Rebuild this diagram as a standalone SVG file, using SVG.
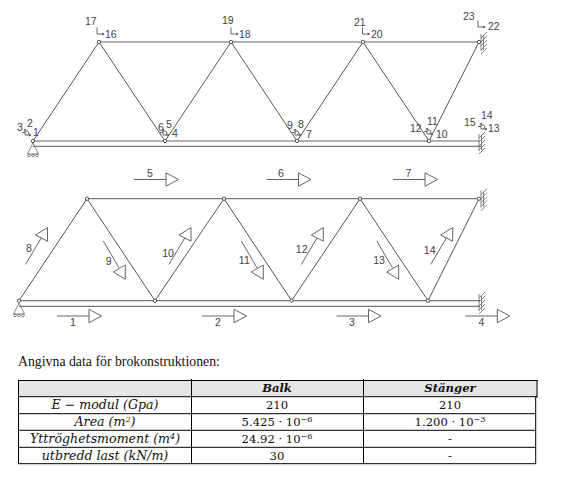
<svg xmlns="http://www.w3.org/2000/svg" width="574" height="496" viewBox="0 0 574 496">
<style>
.m{fill:none;stroke:#555;stroke-width:1}
.c{fill:none;stroke:#999;stroke-width:1.3}
.a{fill:none;stroke:#555;stroke-width:.9}
.j{fill:#fff;stroke:#444;stroke-width:.9}
.t{font-family:"Liberation Sans",Arial,sans-serif;font-size:10.5px;fill:#444}
.e{text-anchor:middle}
.h{fill:none;stroke:#666;stroke-width:.8}
.r{fill:none;stroke:#000;stroke-width:1}
.v{font-family:"DejaVu Serif",serif;font-size:11.6px;fill:#111;text-anchor:middle}
.i{font-style:italic;font-size:12.6px}
.b{font-weight:bold;font-style:italic}
.s{font-size:8px}
</style>
<defs>
<g id="fix"><path class="h" d="M0-8V9M2.500-7V8M0-4L6-10M0 0L6-6M0 4L6-2M0 8L6 2M0 12L6 6"/></g>
<g id="pin"><path class="h" d="M0 2L-5.500 13H5.500Z"/><circle class="h" cx="-4" cy="14.500" r="1.300"/><circle class="h" cx="0" cy="14.500" r="1.300"/><circle class="h" cx="4" cy="14.500" r="1.300"/></g>
<path id="ax" class="a" d="M0-6.500V0H7M7 0L5-1M7 0L5 1"/>
<path id="bx" class="a" d="M0-6V0H6M-3-2.500H0M6 0L4-1M6 0L4 1M0-6L-1-4.500M0-6L1-4.500M0-4H2.500L4-2L2.500 0"/>
<path id="ar" class="a" d="M0 0H32M32-6.700V6.700L44.500 0Z"/>
<path id="up" class="a" d="M0 0L15.700-26.500M22-37V-23.300L10-29.500Z"/>
<path id="dn" class="a" d="M0 0L15.700 26.700M22 24V38.300L10 31Z"/>
</defs>

<g id="connectors">
<path class="c" d="M99 42H479"/>
<path class="m" d="M33 141L99 42L165 141L231 42L297 141L363 42L429 141L479 42"/>
<path class="c" d="M33 141H479"/>
<path class="m" d="M33 146.300H481"/>
<path class="m" d="M87 198.700H479M19 300.700L87 198.700L155 300.700L224 198.700L291.600 300.700L360 198.700L428 300.700L479 198.700"/>
<path class="m" d="M19 300.700H480M19 306.300H480"/>
</g>

<g id="upper-joints">
<g id="u1"><circle class="j" cx="33" cy="141" r="1.700"/><use href="#pin" x="33" y="141"/></g>
<g id="u2"><circle class="j" cx="99" cy="42" r="1.700"/></g>
<g id="u3"><circle class="j" cx="165" cy="141" r="1.700"/></g>
<g id="u4"><circle class="j" cx="231" cy="42" r="1.700"/></g>
<g id="u5"><circle class="j" cx="297" cy="141" r="1.700"/></g>
<g id="u6"><circle class="j" cx="363" cy="42" r="1.700"/></g>
<g id="u7"><circle class="j" cx="429" cy="141" r="1.700"/></g>
<g id="u8"><circle class="j" cx="479" cy="42" r="1.700"/><use href="#fix" x="481" y="42"/></g>
<g id="u9"><use href="#fix" x="479" y="142"/></g>
</g>

<g id="dof-labels">
<g id="dof1"><use href="#bx" x="25" y="135"/><text class="t" x="33" y="136">1</text><text class="t" x="27" y="126.700">2</text><text class="t" x="17" y="130.700">3</text></g>
<g id="dof4"><use href="#bx" x="163" y="135"/><text class="t" x="172" y="137">4</text><text class="t" x="166" y="127.700">5</text><text class="t" x="158" y="130.700">6</text></g>
<g id="dof7"><use href="#bx" x="295" y="135"/><text class="t" x="306" y="137.700">7</text><text class="t" x="298" y="127.700">8</text><text class="t" x="287" y="129">9</text></g>
<g id="dof10"><use href="#bx" x="427" y="134"/><text class="t" x="436" y="137.700">10</text><text class="t" x="427" y="125">11</text><text class="t" x="410" y="131.700">12</text></g>
<g id="dof13"><use href="#bx" x="481" y="129"/><text class="t" x="488" y="132">13</text><text class="t" x="481" y="119">14</text><text class="t" x="464" y="126">15</text></g>
<g id="dof16"><use href="#ax" x="97" y="34"/><text class="t" x="105" y="37.700">16</text><text class="t" x="85" y="25">17</text></g>
<g id="dof18"><use href="#ax" x="231" y="34"/><text class="t" x="239" y="37.700">18</text><text class="t" x="222" y="24">19</text></g>
<g id="dof20"><use href="#ax" x="362.500" y="34"/><text class="t" x="371" y="37.700">20</text><text class="t" x="354" y="26">21</text></g>
<g id="dof22"><use href="#ax" x="478" y="27"/><text class="t" x="488" y="30">22</text><text class="t" x="463" y="20">23</text></g>
</g>

<g id="lower-joints">
<g id="l1"><circle class="j" cx="19" cy="300.700" r="1.700"/><use href="#pin" x="19" y="301"/></g>
<g id="l2"><circle class="j" cx="87" cy="198.700" r="1.700"/></g>
<g id="l3"><circle class="j" cx="155" cy="300.700" r="1.700"/></g>
<g id="l4"><circle class="j" cx="224" cy="198.700" r="1.700"/></g>
<g id="l5"><circle class="j" cx="291.600" cy="300.700" r="1.700"/></g>
<g id="l6"><circle class="j" cx="360" cy="198.700" r="1.700"/></g>
<g id="l7"><circle class="j" cx="428" cy="300.700" r="1.700"/></g>
<g id="l8"><circle class="j" cx="479" cy="198.700" r="1.700"/><use href="#fix" x="481" y="198.700"/></g>
<g id="l9"><use href="#fix" x="479" y="302"/></g>
</g>

<g id="element-labels">
<g id="e1"><use href="#ar" x="57" y="316"/><text class="t e" x="73" y="325.700">1</text></g>
<g id="e2"><use href="#ar" x="202" y="316"/><text class="t e" x="218" y="325.700">2</text></g>
<g id="e3"><use href="#ar" x="336.500" y="316"/><text class="t e" x="352" y="325.700">3</text></g>
<g id="e4"><use href="#ar" x="465.300" y="316"/><text class="t e" x="481.300" y="325.700">4</text></g>
<g id="e5"><use href="#ar" x="134" y="179.500"/><text class="t e" x="150" y="177">5</text></g>
<g id="e6"><use href="#ar" x="266.500" y="179.500"/><text class="t e" x="281" y="177">6</text></g>
<g id="e7"><use href="#ar" x="393" y="179.500"/><text class="t e" x="408.500" y="177">7</text></g>
<g id="e8"><use href="#up" x="25.500" y="264.500"/><text class="t e" x="29" y="251.700">8</text></g>
<g id="e9"><use href="#dn" x="103.300" y="241"/><text class="t e" x="108.700" y="265">9</text></g>
<g id="e10"><use href="#up" x="169" y="264.500"/><text class="t e" x="168" y="256.700">10</text></g>
<g id="e11"><use href="#dn" x="241.300" y="241"/><text class="t e" x="244.300" y="263.700">11</text></g>
<g id="e12"><use href="#up" x="301.300" y="264.500"/><text class="t e" x="301.700" y="252.700">12</text></g>
<g id="e13"><use href="#dn" x="376.700" y="241"/><text class="t e" x="379" y="264">13</text></g>
<g id="e14"><use href="#up" x="430.700" y="264.500"/><text class="t e" x="429.700" y="254">14</text></g>
</g>

<text x="18" y="365.500" font-family="'Liberation Serif','Times New Roman',serif" font-size="13.800" fill="#111">Angivna data för brokonstruktionen:</text>

<g id="table">
<rect x="18.500" y="380" width="519" height="16.700" fill="#e5e5e5"/>
<path class="r" d="M18 380.500H537.500M18 396.700H537.500M18 413.700H536M18 430.300H536M18 447.300H536M18 463.700H536"/>
<path class="r" d="M18.500 380V464M191.500 379V464M363.500 379V464M535.700 396.700V464M537 380V397.500"/>
<text class="v b" x="277" y="392.300">Balk</text>
<text class="v b" x="450" y="392.300">Stänger</text>
<text class="v i" x="105" y="409.300">E − modul (Gpa)</text>
<text class="v" x="277" y="409.300">210</text>
<text class="v" x="450" y="409.300">210</text>
<text class="v i" x="105" y="426">Area (m<tspan class="s" dy="-4">2</tspan><tspan dy="4">)</tspan></text>
<text class="v" x="277" y="426">5.425 · 10<tspan class="s" dy="-4">−6</tspan></text>
<text class="v" x="450" y="426">1.200 · 10<tspan class="s" dy="-4">−3</tspan></text>
<text class="v i" x="105" y="443.300">Yttröghetsmoment (m<tspan class="s" dy="-4">4</tspan><tspan dy="4">)</tspan></text>
<text class="v" x="277" y="443.300">24.92 · 10<tspan class="s" dy="-4">−6</tspan></text>
<text class="v" x="450" y="443.300">-</text>
<text class="v i" x="105" y="460">utbredd last (kN/m)</text>
<text class="v" x="277" y="460">30</text>
<text class="v" x="450" y="460">-</text>
</g>
</svg>
